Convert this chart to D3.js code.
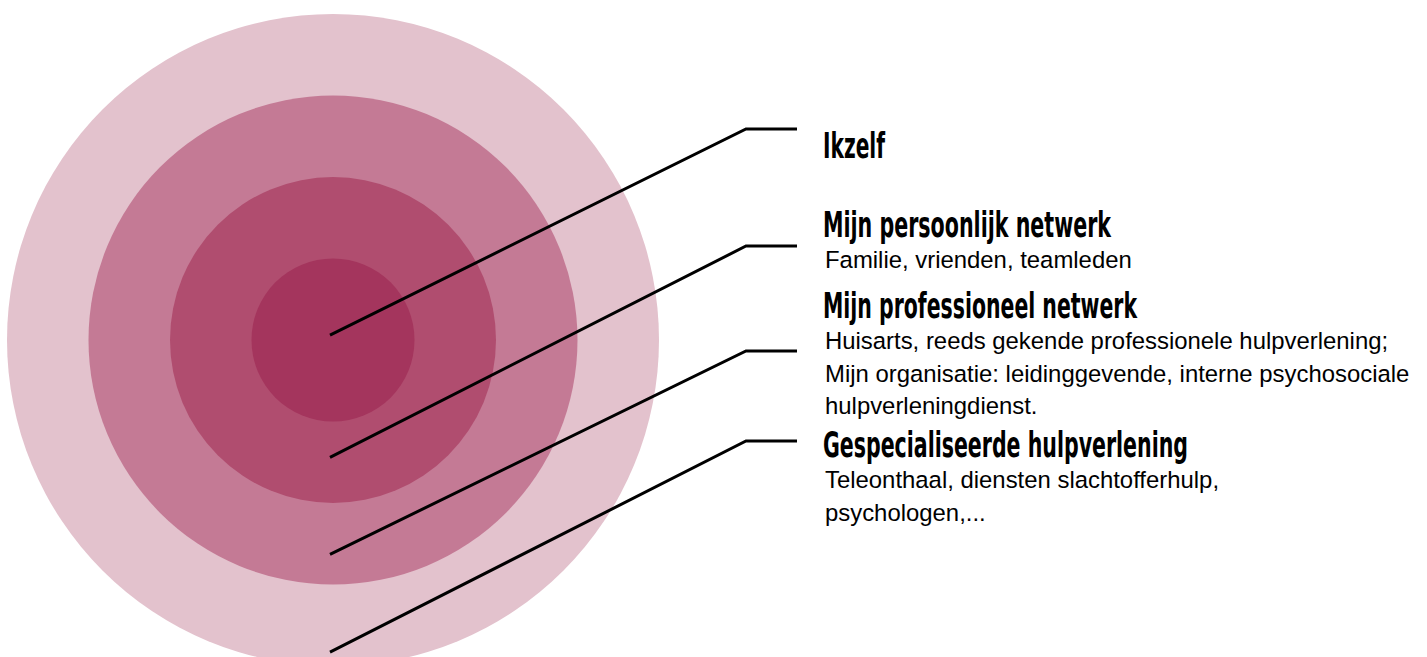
<!DOCTYPE html>
<html>
<head>
<meta charset="utf-8">
<script src="https://cdn.jsdelivr.net/npm/d3@7"></script>
<style>
	body { margin: 0; background: #fff; }
	svg { display: block; }
	.title { font-family: "DejaVu Sans"; font-stretch: condensed; font-weight: bold; fill: #000; }
	.desc { font-family: "Liberation Sans", Arial, sans-serif; fill: #000; }
</style>
</head>
<body>
<svg id="chart" width="1427" height="657"></svg>
<script>

// rings, from the inside out
var levels = [ "Ikzelf", "Mijn persoonlijk netwerk", "Mijn professioneel netwerk", "Gespecialiseerde hulpverlening" ];

var descriptions = [
	[],
	[ "Familie, vrienden, teamleden" ],
	[ "Huisarts, reeds gekende professionele hulpverlening;", "Mijn organisatie: leidinggevende, interne psychosociale", "hulpverleningdienst." ],
	[ "Teleonthaal, diensten slachtofferhulp,", "psychologen,..." ]
];

// where each pointer starts, in ring units below the centre
var pointerDepth = [ -0.06, 1.44, 2.63, 3.83 ];

var ringColors = [ "#a4355d", "#b04d6f", "#c47a95", "#e3c2cd" ];

var layout = {
	cx: 333,
	cy: 340,
	maxR: 326,
	elbowX: 746,
	endX: 797,
	textX: 823,
	elbowY: [ 129, 246, 351, 441 ],
	titleY: [ 158, 237, 318, 457 ],
	titleW: [ 62, 288, 314, 365 ],
	lineH: 32.5
};

var svg = d3.select("#chart");

var r = d3.scaleLinear()
	.domain([0, levels.length])
	.range([0, layout.maxR]);

// outer ring first so the inner ones sit on top
svg.append("g")
	.selectAll("circle")
	.data(d3.range(levels.length).reverse())
	.join("circle")
	.attr("cx", layout.cx)
	.attr("cy", layout.cy)
	.attr("r", i => r(i + 1))
	.attr("fill", i => ringColors[i]);

var line = d3.line();

svg.append("g")
	.selectAll("path")
	.data(levels)
	.join("path")
	.attr("d", (d, i) => line([
		[ layout.cx - 3, layout.cy + r(pointerDepth[i]) ],
		[ layout.elbowX, layout.elbowY[i] ],
		[ layout.endX, layout.elbowY[i] ]
	]))
	.attr("fill", "none")
	.attr("stroke", "#000")
	.attr("stroke-width", 3);

var labels = svg.append("g")
	.selectAll("g")
	.data(levels)
	.join("g");

labels.append("text")
	.attr("class", "title")
	.attr("x", layout.textX)
	.attr("y", (d, i) => layout.titleY[i])
	.attr("font-size", 35)
	.attr("textLength", (d, i) => layout.titleW[i])
	.attr("lengthAdjust", "spacingAndGlyphs")
	.text(d => d);

labels.each(function(d, i) {

	d3.select(this)
		.selectAll(".desc")
		.data(descriptions[i])
		.join("text")
		.attr("class", "desc")
		.attr("x", layout.textX + 2)
		.attr("y", (t, j) => layout.titleY[i] + 31 + j * layout.lineH)
		.attr("font-size", 23.9)
		.text(t => t);

});

</script>
</body>
</html>
